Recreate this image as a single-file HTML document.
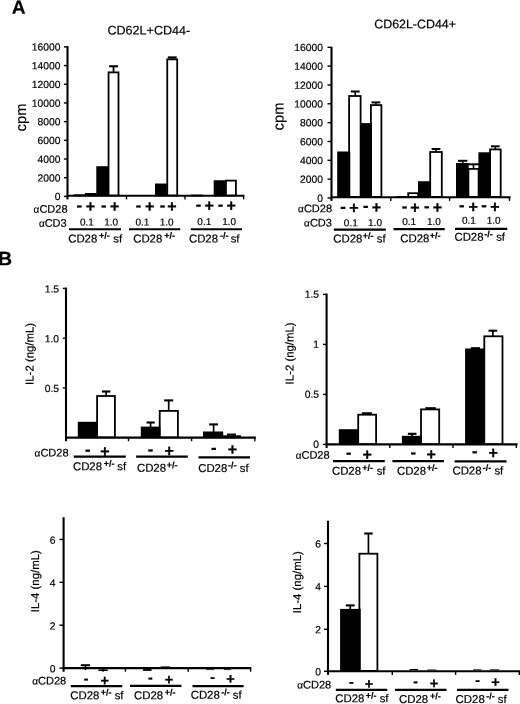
<!DOCTYPE html>
<html lang="en">
<head>
<meta charset="utf-8">
<title>Figure: CD28 proliferation and cytokine production</title>
<style>
html,body{margin:0;padding:0;background:#fff;}
body{width:520px;height:704px;overflow:hidden;}
svg{display:block;}
svg text{font-family:"Liberation Sans",sans-serif;fill:#000;}
</style>
</head>
<body>
<svg width="520" height="704" viewBox="0 0 520 704">
<rect x="0" y="0" width="520" height="704" fill="#fff"/>
<text x="11.70" y="13.80" transform="rotate(0.03 11.70 13.80)" font-size="19.2" text-anchor="start" font-weight="bold"  stroke="#000" stroke-width="0.2">A</text>
<text x="-1.90" y="265.20" transform="rotate(0.03 -1.90 265.20)" font-size="19.5" text-anchor="start" font-weight="bold"  stroke="#000" stroke-width="0.2">B</text>
<text x="107.50" y="34.60" transform="rotate(0.03 107.50 34.60)" font-size="12.55" text-anchor="start" font-weight="normal"  stroke="#000" stroke-width="0.2">CD62L+CD44-</text>
<line x1="67.50" y1="46.10" x2="67.50" y2="199.40" stroke="#000" stroke-width="2.1"/>
<line x1="66.70" y1="195.80" x2="244.40" y2="195.80" stroke="#000" stroke-width="2.1"/>
<line x1="126.50" y1="195.80" x2="126.50" y2="199.40" stroke="#000" stroke-width="1.4"/>
<line x1="185.00" y1="195.80" x2="185.00" y2="199.40" stroke="#000" stroke-width="1.4"/>
<line x1="243.60" y1="195.80" x2="243.60" y2="199.40" stroke="#000" stroke-width="1.4"/>
<line x1="63.90" y1="196.40" x2="67.50" y2="196.40" stroke="#000" stroke-width="1.4"/>
<text x="60.50" y="200.11" transform="rotate(0.03 60.50 200.11)" font-size="10.3" text-anchor="end" font-weight="normal"  stroke="#000" stroke-width="0.2">0</text>
<line x1="63.90" y1="177.71" x2="67.50" y2="177.71" stroke="#000" stroke-width="1.4"/>
<text x="60.50" y="181.42" transform="rotate(0.03 60.50 181.42)" font-size="10.3" text-anchor="end" font-weight="normal"  stroke="#000" stroke-width="0.2">2000</text>
<line x1="63.90" y1="159.02" x2="67.50" y2="159.02" stroke="#000" stroke-width="1.4"/>
<text x="60.50" y="162.73" transform="rotate(0.03 60.50 162.73)" font-size="10.3" text-anchor="end" font-weight="normal"  stroke="#000" stroke-width="0.2">4000</text>
<line x1="63.90" y1="140.33" x2="67.50" y2="140.33" stroke="#000" stroke-width="1.4"/>
<text x="60.50" y="144.04" transform="rotate(0.03 60.50 144.04)" font-size="10.3" text-anchor="end" font-weight="normal"  stroke="#000" stroke-width="0.2">6000</text>
<line x1="63.90" y1="121.64" x2="67.50" y2="121.64" stroke="#000" stroke-width="1.4"/>
<text x="60.50" y="125.35" transform="rotate(0.03 60.50 125.35)" font-size="10.3" text-anchor="end" font-weight="normal"  stroke="#000" stroke-width="0.2">8000</text>
<line x1="63.90" y1="102.95" x2="67.50" y2="102.95" stroke="#000" stroke-width="1.4"/>
<text x="60.50" y="106.66" transform="rotate(0.03 60.50 106.66)" font-size="10.3" text-anchor="end" font-weight="normal"  stroke="#000" stroke-width="0.2">10000</text>
<line x1="63.90" y1="84.26" x2="67.50" y2="84.26" stroke="#000" stroke-width="1.4"/>
<text x="60.50" y="87.97" transform="rotate(0.03 60.50 87.97)" font-size="10.3" text-anchor="end" font-weight="normal"  stroke="#000" stroke-width="0.2">12000</text>
<line x1="63.90" y1="65.57" x2="67.50" y2="65.57" stroke="#000" stroke-width="1.4"/>
<text x="60.50" y="69.28" transform="rotate(0.03 60.50 69.28)" font-size="10.3" text-anchor="end" font-weight="normal"  stroke="#000" stroke-width="0.2">14000</text>
<line x1="63.90" y1="46.88" x2="67.50" y2="46.88" stroke="#000" stroke-width="1.4"/>
<text x="60.50" y="50.59" transform="rotate(0.03 60.50 50.59)" font-size="10.3" text-anchor="end" font-weight="normal"  stroke="#000" stroke-width="0.2">16000</text>
<text transform="translate(26.00,117.50) rotate(-89.97)" font-size="14.7" text-anchor="middle" stroke="#000" stroke-width="0.2">cpm</text>
<rect x="74.50" y="195.21" width="9.95" height="0.19" fill="#000" stroke="#000" stroke-width="1.8"/>
<rect x="85.85" y="193.91" width="9.95" height="1.49" fill="#fff" stroke="#000" stroke-width="1.8"/>
<rect x="97.20" y="167.11" width="9.95" height="28.29" fill="#000" stroke="#000" stroke-width="1.8"/>
<rect x="108.55" y="72.37" width="9.95" height="123.03" fill="#fff" stroke="#000" stroke-width="1.8"/>
<line x1="113.52" y1="66.26" x2="113.52" y2="71.97" stroke="#000" stroke-width="1.8"/>
<line x1="109.12" y1="66.26" x2="117.92" y2="66.26" stroke="#000" stroke-width="2.1"/>
<rect x="155.90" y="184.42" width="9.95" height="10.98" fill="#000" stroke="#000" stroke-width="1.8"/>
<rect x="167.25" y="59.34" width="9.95" height="136.06" fill="#fff" stroke="#000" stroke-width="1.8"/>
<line x1="172.23" y1="57.42" x2="172.23" y2="58.94" stroke="#000" stroke-width="1.8"/>
<line x1="167.83" y1="57.42" x2="176.63" y2="57.42" stroke="#000" stroke-width="2.1"/>
<rect x="191.90" y="195.49" width="9.95" height="0.10" fill="#000" stroke="#000" stroke-width="1.8"/>
<rect x="214.60" y="181.16" width="9.95" height="14.24" fill="#000" stroke="#000" stroke-width="1.8"/>
<rect x="225.95" y="180.60" width="9.95" height="14.80" fill="#fff" stroke="#000" stroke-width="1.8"/>
<text x="67.50" y="212.66" transform="rotate(0.03 67.50 212.66)" font-size="11" text-anchor="end" font-weight="normal"  stroke="#000" stroke-width="0.2"><tspan font-size="10">α</tspan>CD28</text>
<text x="66.70" y="226.86" transform="rotate(0.03 66.70 226.86)" font-size="11" text-anchor="end" font-weight="normal"  stroke="#000" stroke-width="0.2"><tspan font-size="10">α</tspan>CD3</text>
<text x="79.35" y="210.83" transform="rotate(0.03 79.35 210.83)" font-size="16.64" text-anchor="middle" font-weight="bold" stroke="#000" stroke-width="0.28">-</text>
<text x="90.35" y="211.86" transform="rotate(0.03 90.35 211.86)" font-size="16" text-anchor="middle" font-weight="bold" stroke="#000" stroke-width="0.28">+</text>
<text x="103.65" y="210.83" transform="rotate(0.03 103.65 210.83)" font-size="16.64" text-anchor="middle" font-weight="bold" stroke="#000" stroke-width="0.28">-</text>
<text x="114.65" y="211.86" transform="rotate(0.03 114.65 211.86)" font-size="16" text-anchor="middle" font-weight="bold" stroke="#000" stroke-width="0.28">+</text>
<text x="138.50" y="210.83" transform="rotate(0.03 138.50 210.83)" font-size="16.64" text-anchor="middle" font-weight="bold" stroke="#000" stroke-width="0.28">-</text>
<text x="149.65" y="211.86" transform="rotate(0.03 149.65 211.86)" font-size="16" text-anchor="middle" font-weight="bold" stroke="#000" stroke-width="0.28">+</text>
<text x="162.50" y="210.83" transform="rotate(0.03 162.50 210.83)" font-size="16.64" text-anchor="middle" font-weight="bold" stroke="#000" stroke-width="0.28">-</text>
<text x="172.00" y="211.86" transform="rotate(0.03 172.00 211.86)" font-size="16" text-anchor="middle" font-weight="bold" stroke="#000" stroke-width="0.28">+</text>
<text x="198.50" y="209.93" transform="rotate(0.03 198.50 209.93)" font-size="16.64" text-anchor="middle" font-weight="bold" stroke="#000" stroke-width="0.28">-</text>
<text x="209.20" y="210.96" transform="rotate(0.03 209.20 210.96)" font-size="16" text-anchor="middle" font-weight="bold" stroke="#000" stroke-width="0.28">+</text>
<text x="220.60" y="209.93" transform="rotate(0.03 220.60 209.93)" font-size="16.64" text-anchor="middle" font-weight="bold" stroke="#000" stroke-width="0.28">-</text>
<text x="231.20" y="210.96" transform="rotate(0.03 231.20 210.96)" font-size="16" text-anchor="middle" font-weight="bold" stroke="#000" stroke-width="0.28">+</text>
<text x="86.90" y="225.40" transform="rotate(0.03 86.90 225.40)" font-size="10" text-anchor="middle" font-weight="normal"  stroke="#000" stroke-width="0.2">0.1</text>
<text x="111.10" y="225.40" transform="rotate(0.03 111.10 225.40)" font-size="10" text-anchor="middle" font-weight="normal"  stroke="#000" stroke-width="0.2">1.0</text>
<text x="142.40" y="225.40" transform="rotate(0.03 142.40 225.40)" font-size="10" text-anchor="middle" font-weight="normal"  stroke="#000" stroke-width="0.2">0.1</text>
<text x="166.70" y="225.40" transform="rotate(0.03 166.70 225.40)" font-size="10" text-anchor="middle" font-weight="normal"  stroke="#000" stroke-width="0.2">1.0</text>
<text x="204.30" y="225.00" transform="rotate(0.03 204.30 225.00)" font-size="10" text-anchor="middle" font-weight="normal"  stroke="#000" stroke-width="0.2">0.1</text>
<text x="229.20" y="225.00" transform="rotate(0.03 229.20 225.00)" font-size="10" text-anchor="middle" font-weight="normal"  stroke="#000" stroke-width="0.2">1.0</text>
<line x1="69.00" y1="229.20" x2="121.00" y2="229.20" stroke="#000" stroke-width="2.0"/>
<text x="68.17" y="242.50" transform="rotate(0.03 68.17 242.50)" font-size="11.4" text-anchor="start" font-weight="normal"  stroke="#000" stroke-width="0.2">CD28<tspan font-size="9" font-weight="bold" dx="1.8" dy="-3.9">+/-</tspan><tspan dx="0.30" dy="3.9"> sf</tspan></text>
<line x1="129.00" y1="229.20" x2="180.30" y2="229.20" stroke="#000" stroke-width="2.0"/>
<text x="133.17" y="242.50" transform="rotate(0.03 133.17 242.50)" font-size="11.4" text-anchor="start" font-weight="normal"  stroke="#000" stroke-width="0.2">CD28<tspan font-size="9" font-weight="bold" dx="1.9" dy="-3.9">+/-</tspan></text>
<line x1="190.80" y1="229.20" x2="242.00" y2="229.20" stroke="#000" stroke-width="2.0"/>
<text x="188.92" y="242.50" transform="rotate(0.03 188.92 242.50)" font-size="11.4" text-anchor="start" font-weight="normal"  stroke="#000" stroke-width="0.2">CD28<tspan font-size="9" font-weight="bold" dx="1.95" dy="-3.9">-/-</tspan><tspan dx="-1.00" dy="3.9"> sf</tspan></text>
<text x="374.30" y="28.30" transform="rotate(0.03 374.30 28.30)" font-size="12.4" text-anchor="start" font-weight="normal"  stroke="#000" stroke-width="0.2">CD62L-CD44+</text>
<line x1="331.50" y1="46.90" x2="331.50" y2="200.90" stroke="#000" stroke-width="2.1"/>
<line x1="330.70" y1="197.30" x2="510.60" y2="197.30" stroke="#000" stroke-width="2.1"/>
<line x1="390.80" y1="197.30" x2="390.80" y2="200.90" stroke="#000" stroke-width="1.4"/>
<line x1="449.60" y1="197.30" x2="449.60" y2="200.90" stroke="#000" stroke-width="1.4"/>
<line x1="509.50" y1="197.30" x2="509.50" y2="200.90" stroke="#000" stroke-width="1.4"/>
<line x1="327.50" y1="198.00" x2="331.50" y2="198.00" stroke="#000" stroke-width="1.4"/>
<text x="323.00" y="201.71" transform="rotate(0.03 323.00 201.71)" font-size="10.3" text-anchor="end" font-weight="normal"  stroke="#000" stroke-width="0.2">0</text>
<line x1="327.50" y1="179.16" x2="331.50" y2="179.16" stroke="#000" stroke-width="1.4"/>
<text x="323.00" y="182.87" transform="rotate(0.03 323.00 182.87)" font-size="10.3" text-anchor="end" font-weight="normal"  stroke="#000" stroke-width="0.2">2000</text>
<line x1="327.50" y1="160.32" x2="331.50" y2="160.32" stroke="#000" stroke-width="1.4"/>
<text x="323.00" y="164.03" transform="rotate(0.03 323.00 164.03)" font-size="10.3" text-anchor="end" font-weight="normal"  stroke="#000" stroke-width="0.2">4000</text>
<line x1="327.50" y1="141.48" x2="331.50" y2="141.48" stroke="#000" stroke-width="1.4"/>
<text x="323.00" y="145.19" transform="rotate(0.03 323.00 145.19)" font-size="10.3" text-anchor="end" font-weight="normal"  stroke="#000" stroke-width="0.2">6000</text>
<line x1="327.50" y1="122.64" x2="331.50" y2="122.64" stroke="#000" stroke-width="1.4"/>
<text x="323.00" y="126.35" transform="rotate(0.03 323.00 126.35)" font-size="10.3" text-anchor="end" font-weight="normal"  stroke="#000" stroke-width="0.2">8000</text>
<line x1="327.50" y1="103.80" x2="331.50" y2="103.80" stroke="#000" stroke-width="1.4"/>
<text x="323.00" y="107.51" transform="rotate(0.03 323.00 107.51)" font-size="10.3" text-anchor="end" font-weight="normal"  stroke="#000" stroke-width="0.2">10000</text>
<line x1="327.50" y1="84.96" x2="331.50" y2="84.96" stroke="#000" stroke-width="1.4"/>
<text x="323.00" y="88.67" transform="rotate(0.03 323.00 88.67)" font-size="10.3" text-anchor="end" font-weight="normal"  stroke="#000" stroke-width="0.2">12000</text>
<line x1="327.50" y1="66.12" x2="331.50" y2="66.12" stroke="#000" stroke-width="1.4"/>
<text x="323.00" y="69.83" transform="rotate(0.03 323.00 69.83)" font-size="10.3" text-anchor="end" font-weight="normal"  stroke="#000" stroke-width="0.2">14000</text>
<line x1="327.50" y1="47.28" x2="331.50" y2="47.28" stroke="#000" stroke-width="1.4"/>
<text x="323.00" y="50.99" transform="rotate(0.03 323.00 50.99)" font-size="10.3" text-anchor="end" font-weight="normal"  stroke="#000" stroke-width="0.2">16000</text>
<text transform="translate(283.40,116.50) rotate(-89.97)" font-size="14.7" text-anchor="middle" stroke="#000" stroke-width="0.2">cpm</text>
<rect x="349.10" y="96.00" width="11.50" height="100.90" fill="#fff" stroke="#000" stroke-width="1.8"/>
<line x1="355.25" y1="91.50" x2="355.25" y2="95.60" stroke="#000" stroke-width="1.6"/>
<line x1="350.80" y1="91.50" x2="359.70" y2="91.50" stroke="#000" stroke-width="2.0"/>
<rect x="370.90" y="105.10" width="10.50" height="91.80" fill="#fff" stroke="#000" stroke-width="1.8"/>
<line x1="375.90" y1="102.40" x2="375.90" y2="104.70" stroke="#000" stroke-width="1.6"/>
<line x1="371.50" y1="102.40" x2="380.30" y2="102.40" stroke="#000" stroke-width="2.0"/>
<rect x="338.10" y="152.40" width="11.30" height="44.50" fill="#000" stroke="#000" stroke-width="1.8"/>
<rect x="361.10" y="124.00" width="10.00" height="72.90" fill="#000" stroke="#000" stroke-width="1.8"/>
<rect x="408.20" y="193.20" width="9.90" height="3.70" fill="#fff" stroke="#000" stroke-width="1.8"/>
<rect x="430.20" y="152.00" width="11.60" height="44.90" fill="#fff" stroke="#000" stroke-width="1.8"/>
<line x1="436.00" y1="149.00" x2="436.00" y2="151.60" stroke="#000" stroke-width="1.6"/>
<line x1="431.60" y1="149.00" x2="440.40" y2="149.00" stroke="#000" stroke-width="2.0"/>
<rect x="397.40" y="196.90" width="9.70" height="0.10" fill="#000" stroke="#000" stroke-width="1.8"/>
<rect x="418.90" y="182.10" width="11.20" height="14.80" fill="#000" stroke="#000" stroke-width="1.8"/>
<rect x="468.40" y="168.90" width="10.20" height="28.00" fill="#fff" stroke="#000" stroke-width="1.8"/>
<line x1="473.50" y1="164.30" x2="473.50" y2="168.50" stroke="#000" stroke-width="1.6"/>
<line x1="467.50" y1="164.30" x2="479.50" y2="164.30" stroke="#000" stroke-width="2.0"/>
<rect x="490.10" y="149.40" width="10.60" height="47.50" fill="#fff" stroke="#000" stroke-width="1.8"/>
<line x1="495.35" y1="146.30" x2="495.35" y2="149.00" stroke="#000" stroke-width="1.6"/>
<line x1="491.00" y1="146.30" x2="499.70" y2="146.30" stroke="#000" stroke-width="2.0"/>
<rect x="456.90" y="163.90" width="10.90" height="33.00" fill="#000" stroke="#000" stroke-width="1.8"/>
<line x1="462.70" y1="160.80" x2="462.70" y2="163.50" stroke="#000" stroke-width="1.6"/>
<line x1="458.00" y1="160.80" x2="467.40" y2="160.80" stroke="#000" stroke-width="2.0"/>
<rect x="479.30" y="153.20" width="10.00" height="43.70" fill="#000" stroke="#000" stroke-width="1.8"/>
<text x="332.00" y="212.30" transform="rotate(0.03 332.00 212.30)" font-size="11" text-anchor="end" font-weight="normal"  stroke="#000" stroke-width="0.2"><tspan font-size="10">α</tspan>CD28</text>
<text x="331.90" y="226.60" transform="rotate(0.03 331.90 226.60)" font-size="11" text-anchor="end" font-weight="normal"  stroke="#000" stroke-width="0.2"><tspan font-size="10">α</tspan>CD3</text>
<text x="343.10" y="212.23" transform="rotate(0.03 343.10 212.23)" font-size="16.64" text-anchor="middle" font-weight="bold" stroke="#000" stroke-width="0.28">-</text>
<text x="353.80" y="213.26" transform="rotate(0.03 353.80 213.26)" font-size="16" text-anchor="middle" font-weight="bold" stroke="#000" stroke-width="0.28">+</text>
<text x="365.80" y="211.33" transform="rotate(0.03 365.80 211.33)" font-size="16.64" text-anchor="middle" font-weight="bold" stroke="#000" stroke-width="0.28">-</text>
<text x="376.50" y="212.66" transform="rotate(0.03 376.50 212.66)" font-size="16" text-anchor="middle" font-weight="bold" stroke="#000" stroke-width="0.28">+</text>
<text x="404.40" y="211.83" transform="rotate(0.03 404.40 211.83)" font-size="16.64" text-anchor="middle" font-weight="bold" stroke="#000" stroke-width="0.28">-</text>
<text x="415.00" y="213.06" transform="rotate(0.03 415.00 213.06)" font-size="16" text-anchor="middle" font-weight="bold" stroke="#000" stroke-width="0.28">+</text>
<text x="426.80" y="211.63" transform="rotate(0.03 426.80 211.63)" font-size="16.64" text-anchor="middle" font-weight="bold" stroke="#000" stroke-width="0.28">-</text>
<text x="437.30" y="212.86" transform="rotate(0.03 437.30 212.86)" font-size="16" text-anchor="middle" font-weight="bold" stroke="#000" stroke-width="0.28">+</text>
<text x="461.80" y="210.53" transform="rotate(0.03 461.80 210.53)" font-size="16.64" text-anchor="middle" font-weight="bold" stroke="#000" stroke-width="0.28">-</text>
<text x="473.30" y="212.36" transform="rotate(0.03 473.30 212.36)" font-size="16" text-anchor="middle" font-weight="bold" stroke="#000" stroke-width="0.28">+</text>
<text x="484.00" y="210.53" transform="rotate(0.03 484.00 210.53)" font-size="16.64" text-anchor="middle" font-weight="bold" stroke="#000" stroke-width="0.28">-</text>
<text x="495.00" y="212.36" transform="rotate(0.03 495.00 212.36)" font-size="16" text-anchor="middle" font-weight="bold" stroke="#000" stroke-width="0.28">+</text>
<text x="350.80" y="226.20" transform="rotate(0.03 350.80 226.20)" font-size="10" text-anchor="middle" font-weight="normal"  stroke="#000" stroke-width="0.2">0.1</text>
<text x="375.00" y="226.00" transform="rotate(0.03 375.00 226.00)" font-size="10" text-anchor="middle" font-weight="normal"  stroke="#000" stroke-width="0.2">1.0</text>
<text x="409.10" y="225.10" transform="rotate(0.03 409.10 225.10)" font-size="10" text-anchor="middle" font-weight="normal"  stroke="#000" stroke-width="0.2">0.1</text>
<text x="433.90" y="225.10" transform="rotate(0.03 433.90 225.10)" font-size="10" text-anchor="middle" font-weight="normal"  stroke="#000" stroke-width="0.2">1.0</text>
<text x="468.90" y="223.80" transform="rotate(0.03 468.90 223.80)" font-size="10" text-anchor="middle" font-weight="normal"  stroke="#000" stroke-width="0.2">0.1</text>
<text x="493.70" y="223.80" transform="rotate(0.03 493.70 223.80)" font-size="10" text-anchor="middle" font-weight="normal"  stroke="#000" stroke-width="0.2">1.0</text>
<line x1="333.80" y1="229.60" x2="385.80" y2="229.60" stroke="#000" stroke-width="2.2"/>
<text x="333.22" y="242.60" transform="rotate(0.03 333.22 242.60)" font-size="11.4" text-anchor="start" font-weight="normal"  stroke="#000" stroke-width="0.2">CD28<tspan font-size="9" font-weight="bold" dx="0.3" dy="-3.9">+/-</tspan><tspan dx="0.20" dy="3.9"> sf</tspan></text>
<line x1="393.50" y1="229.20" x2="444.70" y2="229.20" stroke="#000" stroke-width="2.2"/>
<text x="400.22" y="242.30" transform="rotate(0.03 400.22 242.30)" font-size="11.4" text-anchor="start" font-weight="normal"  stroke="#000" stroke-width="0.2">CD28<tspan font-size="9" font-weight="bold" dx="0.3" dy="-3.9">+/-</tspan></text>
<line x1="455.00" y1="228.90" x2="507.20" y2="228.90" stroke="#000" stroke-width="2.2"/>
<text x="454.42" y="240.80" transform="rotate(0.03 454.42 240.80)" font-size="11.4" text-anchor="start" font-weight="normal"  stroke="#000" stroke-width="0.2">CD28<tspan font-size="9" font-weight="bold" dx="0.75" dy="-3.9">-/-</tspan><tspan dx="0.20" dy="3.9"> sf</tspan></text>
<line x1="66.00" y1="287.60" x2="66.00" y2="441.20" stroke="#000" stroke-width="2.1"/>
<line x1="65.20" y1="437.60" x2="255.80" y2="437.60" stroke="#000" stroke-width="2.1"/>
<line x1="128.50" y1="437.60" x2="128.50" y2="441.20" stroke="#000" stroke-width="1.4"/>
<line x1="191.60" y1="437.60" x2="191.60" y2="441.20" stroke="#000" stroke-width="1.4"/>
<line x1="254.80" y1="437.60" x2="254.80" y2="441.20" stroke="#000" stroke-width="1.4"/>
<line x1="62.80" y1="387.87" x2="66.00" y2="387.87" stroke="#000" stroke-width="1.4"/>
<text x="59.00" y="392.07" transform="rotate(0.03 59.00 392.07)" font-size="10.3" text-anchor="end" font-weight="normal"  stroke="#000" stroke-width="0.2">0.5</text>
<line x1="62.80" y1="338.13" x2="66.00" y2="338.13" stroke="#000" stroke-width="1.4"/>
<text x="59.00" y="342.34" transform="rotate(0.03 59.00 342.34)" font-size="10.3" text-anchor="end" font-weight="normal"  stroke="#000" stroke-width="0.2">1.0</text>
<line x1="62.80" y1="288.40" x2="66.00" y2="288.40" stroke="#000" stroke-width="1.4"/>
<text x="59.00" y="292.61" transform="rotate(0.03 59.00 292.61)" font-size="10.3" text-anchor="end" font-weight="normal"  stroke="#000" stroke-width="0.2">1.5</text>
<text transform="translate(33.60,353.90) rotate(-89.97)" font-size="11.4" text-anchor="middle" stroke="#000" stroke-width="0.2">IL-2 (ng/mL)</text>
<rect x="97.10" y="396.00" width="17.80" height="41.20" fill="#fff" stroke="#000" stroke-width="1.8"/>
<line x1="106.15" y1="391.50" x2="106.15" y2="395.60" stroke="#000" stroke-width="1.7"/>
<line x1="101.90" y1="391.50" x2="110.40" y2="391.50" stroke="#000" stroke-width="2.1"/>
<rect x="78.70" y="422.70" width="18.20" height="14.50" fill="#000" stroke="#000" stroke-width="1.8"/>
<rect x="159.70" y="410.90" width="18.20" height="26.30" fill="#fff" stroke="#000" stroke-width="1.8"/>
<line x1="168.70" y1="400.40" x2="168.70" y2="410.50" stroke="#000" stroke-width="1.7"/>
<line x1="164.20" y1="400.40" x2="173.20" y2="400.40" stroke="#000" stroke-width="2.1"/>
<rect x="141.70" y="427.50" width="17.80" height="9.70" fill="#000" stroke="#000" stroke-width="1.8"/>
<line x1="150.60" y1="422.50" x2="150.60" y2="427.10" stroke="#000" stroke-width="1.7"/>
<line x1="146.50" y1="422.50" x2="154.70" y2="422.50" stroke="#000" stroke-width="2.1"/>
<rect x="223.40" y="436.20" width="16.70" height="1.00" fill="#000" stroke="#000" stroke-width="1.8"/>
<line x1="227.00" y1="434.60" x2="236.00" y2="434.60" stroke="#000" stroke-width="2.1"/>
<rect x="203.90" y="432.40" width="18.40" height="4.80" fill="#000" stroke="#000" stroke-width="1.8"/>
<line x1="213.60" y1="424.40" x2="213.60" y2="432.00" stroke="#000" stroke-width="1.7"/>
<line x1="209.20" y1="424.40" x2="218.00" y2="424.40" stroke="#000" stroke-width="2.1"/>
<text x="68.50" y="456.50" transform="rotate(0.03 68.50 456.50)" font-size="11" text-anchor="end" font-weight="normal"  stroke="#000" stroke-width="0.2"><tspan font-size="10">α</tspan>CD28</text>
<text x="87.80" y="455.13" transform="rotate(0.03 87.80 455.13)" font-size="16.64" text-anchor="middle" font-weight="bold" stroke="#000" stroke-width="0.28">-</text>
<text x="104.80" y="456.76" transform="rotate(0.03 104.80 456.76)" font-size="16" text-anchor="middle" font-weight="bold" stroke="#000" stroke-width="0.28">+</text>
<text x="150.40" y="454.83" transform="rotate(0.03 150.40 454.83)" font-size="16.64" text-anchor="middle" font-weight="bold" stroke="#000" stroke-width="0.28">-</text>
<text x="169.20" y="456.16" transform="rotate(0.03 169.20 456.16)" font-size="16" text-anchor="middle" font-weight="bold" stroke="#000" stroke-width="0.28">+</text>
<text x="213.70" y="453.33" transform="rotate(0.03 213.70 453.33)" font-size="16.64" text-anchor="middle" font-weight="bold" stroke="#000" stroke-width="0.28">-</text>
<text x="232.30" y="454.86" transform="rotate(0.03 232.30 454.86)" font-size="16" text-anchor="middle" font-weight="bold" stroke="#000" stroke-width="0.28">+</text>
<line x1="73.80" y1="456.60" x2="125.80" y2="456.60" stroke="#000" stroke-width="2.2"/>
<text x="72.92" y="470.30" transform="rotate(0.03 72.92 470.30)" font-size="11.4" text-anchor="start" font-weight="normal"  stroke="#000" stroke-width="0.2">CD28<tspan font-size="9" font-weight="bold" dx="1.8" dy="-3.9">+/-</tspan><tspan dx="-0.50" dy="3.9"> sf</tspan></text>
<line x1="136.10" y1="456.60" x2="187.80" y2="456.60" stroke="#000" stroke-width="2.2"/>
<text x="136.92" y="471.80" transform="rotate(0.03 136.92 471.80)" font-size="11.4" text-anchor="start" font-weight="normal"  stroke="#000" stroke-width="0.2">CD28<tspan font-size="9" font-weight="bold" dx="0.6" dy="-3.9">+/-</tspan></text>
<line x1="198.50" y1="457.30" x2="250.00" y2="457.30" stroke="#000" stroke-width="2.2"/>
<text x="198.17" y="472.00" transform="rotate(0.03 198.17 472.00)" font-size="11.4" text-anchor="start" font-weight="normal"  stroke="#000" stroke-width="0.2">CD28<tspan font-size="9" font-weight="bold" dx="0.6" dy="-3.9">-/-</tspan><tspan dx="0.25" dy="3.9"> sf</tspan></text>
<line x1="326.60" y1="293.60" x2="326.60" y2="448.00" stroke="#000" stroke-width="2.1"/>
<line x1="325.80" y1="444.40" x2="517.60" y2="444.40" stroke="#000" stroke-width="2.1"/>
<line x1="389.80" y1="444.40" x2="389.80" y2="448.00" stroke="#000" stroke-width="1.4"/>
<line x1="453.00" y1="444.40" x2="453.00" y2="448.00" stroke="#000" stroke-width="1.4"/>
<line x1="516.30" y1="444.40" x2="516.30" y2="448.00" stroke="#000" stroke-width="1.4"/>
<line x1="323.00" y1="444.40" x2="326.60" y2="444.40" stroke="#000" stroke-width="1.4"/>
<text x="319.10" y="447.81" transform="rotate(0.03 319.10 447.81)" font-size="10.3" text-anchor="end" font-weight="normal"  stroke="#000" stroke-width="0.2">0</text>
<line x1="323.00" y1="394.40" x2="326.60" y2="394.40" stroke="#000" stroke-width="1.4"/>
<text x="319.10" y="397.81" transform="rotate(0.03 319.10 397.81)" font-size="10.3" text-anchor="end" font-weight="normal"  stroke="#000" stroke-width="0.2">0.5</text>
<line x1="323.00" y1="344.40" x2="326.60" y2="344.40" stroke="#000" stroke-width="1.4"/>
<text x="319.10" y="347.81" transform="rotate(0.03 319.10 347.81)" font-size="10.3" text-anchor="end" font-weight="normal"  stroke="#000" stroke-width="0.2">1</text>
<line x1="323.00" y1="294.40" x2="326.60" y2="294.40" stroke="#000" stroke-width="1.4"/>
<text x="319.10" y="297.81" transform="rotate(0.03 319.10 297.81)" font-size="10.3" text-anchor="end" font-weight="normal"  stroke="#000" stroke-width="0.2">1.5</text>
<text transform="translate(293.60,353.40) rotate(-89.97)" font-size="11.4" text-anchor="middle" stroke="#000" stroke-width="0.2">IL-2 (ng/mL)</text>
<rect x="358.20" y="414.70" width="17.90" height="29.30" fill="#fff" stroke="#000" stroke-width="1.8"/>
<line x1="361.90" y1="413.30" x2="371.90" y2="413.30" stroke="#000" stroke-width="2.1"/>
<rect x="339.70" y="430.10" width="18.20" height="13.90" fill="#000" stroke="#000" stroke-width="1.8"/>
<rect x="421.00" y="409.40" width="18.20" height="34.60" fill="#fff" stroke="#000" stroke-width="1.8"/>
<line x1="425.30" y1="408.20" x2="435.80" y2="408.20" stroke="#000" stroke-width="2.1"/>
<rect x="402.80" y="436.70" width="17.90" height="7.30" fill="#000" stroke="#000" stroke-width="1.8"/>
<line x1="412.15" y1="433.80" x2="412.15" y2="436.30" stroke="#000" stroke-width="1.7"/>
<line x1="407.80" y1="433.80" x2="416.50" y2="433.80" stroke="#000" stroke-width="2.1"/>
<rect x="484.30" y="336.30" width="18.20" height="107.70" fill="#fff" stroke="#000" stroke-width="1.8"/>
<line x1="492.85" y1="330.70" x2="492.85" y2="335.90" stroke="#000" stroke-width="1.7"/>
<line x1="488.50" y1="330.70" x2="497.20" y2="330.70" stroke="#000" stroke-width="2.1"/>
<rect x="466.00" y="349.40" width="18.00" height="94.60" fill="#000" stroke="#000" stroke-width="1.8"/>
<line x1="470.80" y1="348.20" x2="480.00" y2="348.20" stroke="#000" stroke-width="2.1"/>
<text x="329.60" y="458.80" transform="rotate(0.03 329.60 458.80)" font-size="11" text-anchor="end" font-weight="normal"  stroke="#000" stroke-width="0.2"><tspan font-size="10">α</tspan>CD28</text>
<text x="348.70" y="458.13" transform="rotate(0.03 348.70 458.13)" font-size="16.64" text-anchor="middle" font-weight="bold" stroke="#000" stroke-width="0.28">-</text>
<text x="367.10" y="459.96" transform="rotate(0.03 367.10 459.96)" font-size="16" text-anchor="middle" font-weight="bold" stroke="#000" stroke-width="0.28">+</text>
<text x="413.30" y="457.73" transform="rotate(0.03 413.30 457.73)" font-size="16.64" text-anchor="middle" font-weight="bold" stroke="#000" stroke-width="0.28">-</text>
<text x="431.20" y="459.86" transform="rotate(0.03 431.20 459.86)" font-size="16" text-anchor="middle" font-weight="bold" stroke="#000" stroke-width="0.28">+</text>
<text x="474.80" y="456.63" transform="rotate(0.03 474.80 456.63)" font-size="16.64" text-anchor="middle" font-weight="bold" stroke="#000" stroke-width="0.28">-</text>
<text x="493.20" y="458.36" transform="rotate(0.03 493.20 458.36)" font-size="16" text-anchor="middle" font-weight="bold" stroke="#000" stroke-width="0.28">+</text>
<line x1="333.00" y1="461.20" x2="384.80" y2="461.20" stroke="#000" stroke-width="2.2"/>
<text x="331.92" y="474.70" transform="rotate(0.03 331.92 474.70)" font-size="11.4" text-anchor="start" font-weight="normal"  stroke="#000" stroke-width="0.2">CD28<tspan font-size="9" font-weight="bold" dx="1.1" dy="-3.9">+/-</tspan><tspan dx="0.60" dy="3.9"> sf</tspan></text>
<line x1="392.40" y1="461.10" x2="443.90" y2="461.10" stroke="#000" stroke-width="2.2"/>
<text x="396.92" y="474.70" transform="rotate(0.03 396.92 474.70)" font-size="11.4" text-anchor="start" font-weight="normal"  stroke="#000" stroke-width="0.2">CD28<tspan font-size="9" font-weight="bold" dx="0.6" dy="-3.9">+/-</tspan></text>
<line x1="454.60" y1="461.40" x2="506.50" y2="461.40" stroke="#000" stroke-width="2.2"/>
<text x="452.42" y="474.60" transform="rotate(0.03 452.42 474.60)" font-size="11.4" text-anchor="start" font-weight="normal"  stroke="#000" stroke-width="0.2">CD28<tspan font-size="9" font-weight="bold" dx="1.2" dy="-3.9">-/-</tspan><tspan dx="0.00" dy="3.9"> sf</tspan></text>
<line x1="63.60" y1="517.20" x2="63.60" y2="671.70" stroke="#000" stroke-width="2.1"/>
<line x1="62.80" y1="668.10" x2="251.30" y2="668.10" stroke="#000" stroke-width="2.1"/>
<line x1="125.40" y1="668.10" x2="125.40" y2="671.70" stroke="#000" stroke-width="1.4"/>
<line x1="188.20" y1="668.10" x2="188.20" y2="671.70" stroke="#000" stroke-width="1.4"/>
<line x1="250.60" y1="668.10" x2="250.60" y2="671.70" stroke="#000" stroke-width="1.4"/>
<line x1="59.40" y1="668.10" x2="63.60" y2="668.10" stroke="#000" stroke-width="1.4"/>
<text x="55.50" y="672.31" transform="rotate(0.03 55.50 672.31)" font-size="10.3" text-anchor="end" font-weight="normal"  stroke="#000" stroke-width="0.2">0</text>
<line x1="59.40" y1="625.21" x2="63.60" y2="625.21" stroke="#000" stroke-width="1.4"/>
<text x="55.50" y="629.42" transform="rotate(0.03 55.50 629.42)" font-size="10.3" text-anchor="end" font-weight="normal"  stroke="#000" stroke-width="0.2">2</text>
<line x1="59.40" y1="582.33" x2="63.60" y2="582.33" stroke="#000" stroke-width="1.4"/>
<text x="55.50" y="586.54" transform="rotate(0.03 55.50 586.54)" font-size="10.3" text-anchor="end" font-weight="normal"  stroke="#000" stroke-width="0.2">4</text>
<line x1="59.40" y1="539.44" x2="63.60" y2="539.44" stroke="#000" stroke-width="1.4"/>
<text x="55.50" y="543.65" transform="rotate(0.03 55.50 543.65)" font-size="10.3" text-anchor="end" font-weight="normal"  stroke="#000" stroke-width="0.2">6</text>
<text transform="translate(38.90,581.20) rotate(-89.97)" font-size="11.4" text-anchor="middle" stroke="#000" stroke-width="0.2">IL-4 (ng/mL)</text>
<line x1="85.40" y1="665.20" x2="85.40" y2="670.00" stroke="#000" stroke-width="1.6"/>
<line x1="80.80" y1="665.20" x2="90.00" y2="665.20" stroke="#000" stroke-width="2.0"/>
<line x1="98.50" y1="670.20" x2="107.70" y2="670.20" stroke="#000" stroke-width="1.6"/>
<line x1="103.10" y1="669.00" x2="103.10" y2="671.80" stroke="#000" stroke-width="1.4"/>
<line x1="143.10" y1="670.00" x2="151.50" y2="670.00" stroke="#000" stroke-width="1.8"/>
<line x1="160.80" y1="667.00" x2="170.00" y2="667.00" stroke="#000" stroke-width="1.2"/>
<line x1="206.00" y1="669.60" x2="214.00" y2="669.60" stroke="#000" stroke-width="0.8"/>
<line x1="224.00" y1="669.60" x2="231.00" y2="669.60" stroke="#000" stroke-width="0.8"/>
<text x="66.20" y="684.60" transform="rotate(0.03 66.20 684.60)" font-size="11" text-anchor="end" font-weight="normal"  stroke="#000" stroke-width="0.2"><tspan font-size="10">α</tspan>CD28</text>
<text x="86.20" y="683.16" transform="rotate(0.03 86.20 683.16)" font-size="14.065" text-anchor="middle" font-weight="bold" stroke="#000" stroke-width="0.28">-</text>
<text x="104.80" y="685.46" transform="rotate(0.03 104.80 685.46)" font-size="14.5" text-anchor="middle" font-weight="bold" stroke="#000" stroke-width="0.28">+</text>
<text x="150.40" y="682.16" transform="rotate(0.03 150.40 682.16)" font-size="14.065" text-anchor="middle" font-weight="bold" stroke="#000" stroke-width="0.28">-</text>
<text x="168.90" y="684.46" transform="rotate(0.03 168.90 684.46)" font-size="14.5" text-anchor="middle" font-weight="bold" stroke="#000" stroke-width="0.28">+</text>
<text x="212.50" y="681.66" transform="rotate(0.03 212.50 681.66)" font-size="14.065" text-anchor="middle" font-weight="bold" stroke="#000" stroke-width="0.28">-</text>
<text x="230.60" y="683.66" transform="rotate(0.03 230.60 683.66)" font-size="14.5" text-anchor="middle" font-weight="bold" stroke="#000" stroke-width="0.28">+</text>
<line x1="70.80" y1="686.20" x2="122.30" y2="686.20" stroke="#000" stroke-width="2.2"/>
<text x="70.22" y="699.20" transform="rotate(0.03 70.22 699.20)" font-size="11.4" text-anchor="start" font-weight="normal"  stroke="#000" stroke-width="0.2">CD28<tspan font-size="9" font-weight="bold" dx="1.5" dy="-3.9">+/-</tspan><tspan dx="-0.10" dy="3.9"> sf</tspan></text>
<line x1="130.00" y1="685.90" x2="181.50" y2="685.90" stroke="#000" stroke-width="2.2"/>
<text x="134.02" y="699.20" transform="rotate(0.03 134.02 699.20)" font-size="11.4" text-anchor="start" font-weight="normal"  stroke="#000" stroke-width="0.2">CD28<tspan font-size="9" font-weight="bold" dx="1.5" dy="-3.9">+/-</tspan></text>
<line x1="192.50" y1="686.10" x2="243.60" y2="686.10" stroke="#000" stroke-width="2.2"/>
<text x="190.67" y="698.80" transform="rotate(0.03 190.67 698.80)" font-size="11.4" text-anchor="start" font-weight="normal"  stroke="#000" stroke-width="0.2">CD28<tspan font-size="9" font-weight="bold" dx="1.5" dy="-3.9">-/-</tspan><tspan dx="-0.10" dy="3.9"> sf</tspan></text>
<line x1="328.00" y1="520.80" x2="328.00" y2="674.90" stroke="#000" stroke-width="2.1"/>
<line x1="327.20" y1="671.30" x2="521.60" y2="671.30" stroke="#000" stroke-width="2.1"/>
<line x1="392.30" y1="671.30" x2="392.30" y2="674.90" stroke="#000" stroke-width="1.4"/>
<line x1="455.60" y1="671.30" x2="455.60" y2="674.90" stroke="#000" stroke-width="1.4"/>
<line x1="519.30" y1="671.30" x2="519.30" y2="674.90" stroke="#000" stroke-width="1.4"/>
<line x1="324.00" y1="671.30" x2="328.00" y2="671.30" stroke="#000" stroke-width="1.4"/>
<text x="321.00" y="675.21" transform="rotate(0.03 321.00 675.21)" font-size="10.3" text-anchor="end" font-weight="normal"  stroke="#000" stroke-width="0.2">0</text>
<line x1="324.00" y1="629.30" x2="328.00" y2="629.30" stroke="#000" stroke-width="1.4"/>
<text x="321.00" y="633.21" transform="rotate(0.03 321.00 633.21)" font-size="10.3" text-anchor="end" font-weight="normal"  stroke="#000" stroke-width="0.2">2</text>
<line x1="324.00" y1="586.40" x2="328.00" y2="586.40" stroke="#000" stroke-width="1.4"/>
<text x="321.00" y="590.31" transform="rotate(0.03 321.00 590.31)" font-size="10.3" text-anchor="end" font-weight="normal"  stroke="#000" stroke-width="0.2">4</text>
<line x1="324.00" y1="543.50" x2="328.00" y2="543.50" stroke="#000" stroke-width="1.4"/>
<text x="321.00" y="547.41" transform="rotate(0.03 321.00 547.41)" font-size="10.3" text-anchor="end" font-weight="normal"  stroke="#000" stroke-width="0.2">6</text>
<text transform="translate(301.00,582.20) rotate(-89.97)" font-size="11.4" text-anchor="middle" stroke="#000" stroke-width="0.2">IL-4 (ng/mL)</text>
<rect x="359.40" y="553.70" width="18.00" height="117.20" fill="#fff" stroke="#000" stroke-width="1.8"/>
<line x1="368.45" y1="533.50" x2="368.45" y2="553.30" stroke="#000" stroke-width="1.7"/>
<line x1="364.20" y1="533.50" x2="372.70" y2="533.50" stroke="#000" stroke-width="2.1"/>
<rect x="341.00" y="609.80" width="18.80" height="61.10" fill="#000" stroke="#000" stroke-width="1.8"/>
<line x1="350.25" y1="605.40" x2="350.25" y2="609.40" stroke="#000" stroke-width="1.7"/>
<line x1="345.80" y1="605.40" x2="354.70" y2="605.40" stroke="#000" stroke-width="2.1"/>
<line x1="409.60" y1="669.60" x2="418.10" y2="669.60" stroke="#000" stroke-width="1.2"/>
<line x1="427.30" y1="669.90" x2="436.50" y2="669.90" stroke="#000" stroke-width="0.8"/>
<line x1="473.10" y1="669.80" x2="481.50" y2="669.80" stroke="#000" stroke-width="0.9"/>
<line x1="490.00" y1="669.80" x2="499.20" y2="669.80" stroke="#000" stroke-width="0.9"/>
<text x="331.20" y="688.50" transform="rotate(0.03 331.20 688.50)" font-size="11" text-anchor="end" font-weight="normal"  stroke="#000" stroke-width="0.2"><tspan font-size="10">α</tspan>CD28</text>
<text x="351.30" y="686.46" transform="rotate(0.03 351.30 686.46)" font-size="14.065" text-anchor="middle" font-weight="bold" stroke="#000" stroke-width="0.28">-</text>
<text x="369.10" y="688.66" transform="rotate(0.03 369.10 688.66)" font-size="14.5" text-anchor="middle" font-weight="bold" stroke="#000" stroke-width="0.28">+</text>
<text x="415.50" y="685.96" transform="rotate(0.03 415.50 685.96)" font-size="14.065" text-anchor="middle" font-weight="bold" stroke="#000" stroke-width="0.28">-</text>
<text x="434.10" y="688.16" transform="rotate(0.03 434.10 688.16)" font-size="14.5" text-anchor="middle" font-weight="bold" stroke="#000" stroke-width="0.28">+</text>
<text x="477.70" y="684.86" transform="rotate(0.03 477.70 684.86)" font-size="14.065" text-anchor="middle" font-weight="bold" stroke="#000" stroke-width="0.28">-</text>
<text x="495.60" y="687.06" transform="rotate(0.03 495.60 687.06)" font-size="14.5" text-anchor="middle" font-weight="bold" stroke="#000" stroke-width="0.28">+</text>
<line x1="335.80" y1="689.90" x2="387.30" y2="689.90" stroke="#000" stroke-width="2.2"/>
<text x="335.22" y="702.30" transform="rotate(0.03 335.22 702.30)" font-size="11.4" text-anchor="start" font-weight="normal"  stroke="#000" stroke-width="0.2">CD28<tspan font-size="9" font-weight="bold" dx="1.5" dy="-3.9">+/-</tspan><tspan dx="-0.10" dy="3.9"> sf</tspan></text>
<line x1="395.00" y1="689.90" x2="446.50" y2="689.90" stroke="#000" stroke-width="2.2"/>
<text x="399.02" y="703.00" transform="rotate(0.03 399.02 703.00)" font-size="11.4" text-anchor="start" font-weight="normal"  stroke="#000" stroke-width="0.2">CD28<tspan font-size="9" font-weight="bold" dx="1.9" dy="-3.9">+/-</tspan></text>
<line x1="456.90" y1="689.90" x2="508.50" y2="689.90" stroke="#000" stroke-width="2.2"/>
<text x="455.62" y="703.00" transform="rotate(0.03 455.62 703.00)" font-size="11.4" text-anchor="start" font-weight="normal"  stroke="#000" stroke-width="0.2">CD28<tspan font-size="9" font-weight="bold" dx="1.5" dy="-3.9">-/-</tspan><tspan dx="-0.10" dy="3.9"> sf</tspan></text>
</svg>
</body>
</html>
